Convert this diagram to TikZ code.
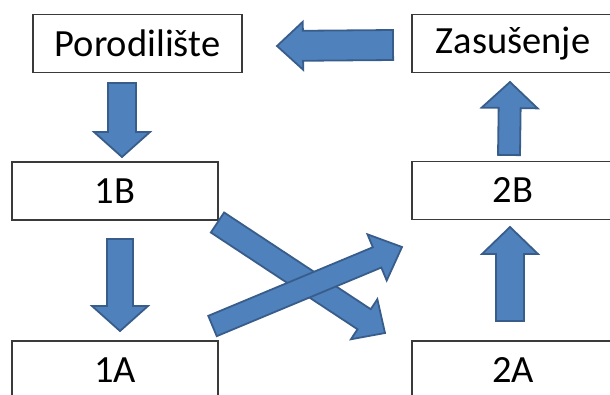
\documentclass[tikz,border=0pt]{standalone}
\usepackage{fontspec}
\setmainfont{Carlito}
\usepackage{tikz}
\usetikzlibrary{calc}
\definecolor{arrowfill}{HTML}{4F81BD}
\definecolor{arrowline}{HTML}{385D8A}
\definecolor{boxline}{HTML}{3A3A3A}
\tikzset{
  box/.style={draw=boxline, line width=1.1pt, fill=white, inner sep=0pt,
    minimum width=206pt, minimum height=58pt, font=\fontsize{38.5}{40}\selectfont},
  shaft/.store in=\shafthalf, head/.store in=\headhalf, headlen/.store in=\headlength,
  shaft=13pt, head=28pt, headlen=25pt,
  fat arrow/.style={draw=arrowline, fill=arrowfill, line width=1.8pt, line join=miter,
    to path={
      ($(\tikztostart)!\shafthalf!90:(\tikztotarget)$)
      -- ($($(\tikztotarget)!\headlength!(\tikztostart)$)!\shafthalf!90:(\tikztotarget)$)
      -- ($($(\tikztotarget)!\headlength!(\tikztostart)$)!\headhalf!90:(\tikztotarget)$)
      -- (\tikztotarget)
      -- ($($(\tikztotarget)!\headlength!(\tikztostart)$)!\headhalf!-90:(\tikztotarget)$)
      -- ($($(\tikztotarget)!\headlength!(\tikztostart)$)!\shafthalf!-90:(\tikztotarget)$)
      -- ($(\tikztostart)!\shafthalf!-90:(\tikztotarget)$) -- cycle}}
}
\begin{document}
\begin{tikzpicture}[x=1pt,y=-1pt]
\useasboundingbox (0,0) rectangle (610,394);

% boxes
\node[box,minimum width=209pt] (por) at (137.5,43.5) {Porodilište};
\node[box,minimum width=202pt] (zas) at (513,43.5) {Zasušenje};
\node[box] (b1) at (115,191) {1B};
\node[box,minimum width=202pt] (b2) at (513,190.5) {2B};
\node[box] (a1) at (115,370) {1A};
\node[box,minimum width=202pt] (a2) at (513,370) {2A};

% arrow ends
\coordinate (p1) at (122,83);    \coordinate (p2) at (122,157);
\coordinate (q1) at (120,239);   \coordinate (q2) at (120,331);
\coordinate (r1) at (510,321);   \coordinate (r2) at (510,227);
\coordinate (s1) at (509,155);   \coordinate (s2) at (510,82);
\coordinate (z1) at (393,45);    \coordinate (z2) at (277,46);
\coordinate (d1) at (217.5,222.5); \coordinate (d2) at (385,333);
\coordinate (u1) at (212.5,326); \coordinate (u2) at (402,247);

\draw[fat arrow,shaft=14pt] (p1) to (p2);
\draw[fat arrow] (q1) to (q2);
\draw[fat arrow,shaft=14pt,headlen=27pt] (r1) to (r2);
\draw[fat arrow,shaft=11pt,headlen=26pt] (s1) to (s2);
\draw[fat arrow,shaft=15pt,head=24pt,headlen=26pt] (z1) to (z2);
\draw[fat arrow,shaft=12pt,head=24pt] (d1) to (d2);
\draw[fat arrow,shaft=11pt,head=25pt,headlen=27pt] (u1) to (u2);

\end{tikzpicture}
\end{document}
